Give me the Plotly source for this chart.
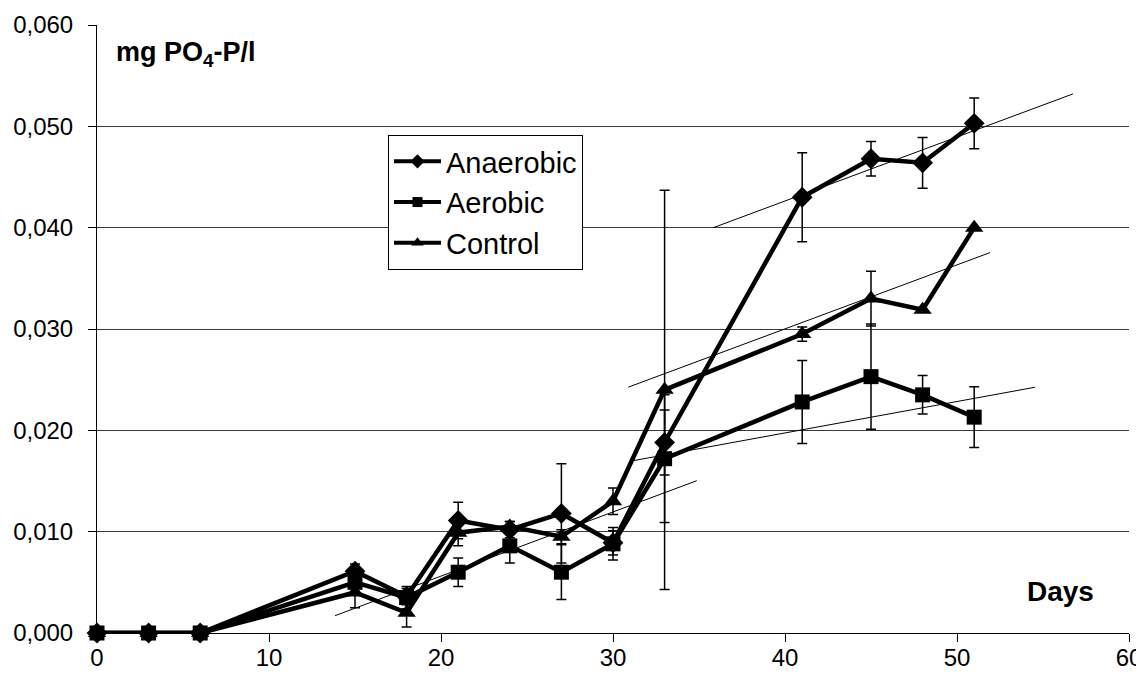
import plotly.graph_objects as go

# ---- data ----
days = [0, 3, 6, 15, 18, 21, 24, 27, 30, 33, 41, 45, 48, 51]

anaerobic = [0, 0, 0, 0.0061, 0.0036, 0.0111, 0.0102, 0.0118, 0.0089, 0.0188, 0.0430, 0.0468, 0.0464, 0.0503]
anaerobic_err = [None, None, None, 0.0007, 0.0008, 0.0018, 0.0008, 0.0049, 0.0012, 0.0032, 0.0044, 0.0017, 0.0025, 0.0025]

aerobic = [0, 0, 0, 0.0050, 0.0035, 0.0060, 0.0086, 0.0060, 0.0088, 0.0172, 0.0228, 0.0253, 0.0235, 0.0213]
aerobic_err = [None, None, None, 0.0010, 0.0011, 0.0014, 0.0017, 0.0027, 0.0016, 0.0063, 0.0041, 0.0052, 0.0019, 0.0030]

control = [0, 0, 0, 0.0040, 0.0020, 0.0099, 0.0105, 0.0095, 0.0130, 0.0240, 0.0295, 0.0330, 0.0319, 0.0400]
control_err = [None, None, None, 0.0015, 0.0014, 0.0013, 0.0005, 0.0007, 0.0013, 0.0197, 0.0007, 0.0027, None, None]

# thin trend lines (start/end in data units)
trend_early_x = [13.84, 34.87]
trend_early_y = [0.00171, 0.01503]
trend_aerobic_x = [31.09, 54.53]
trend_aerobic_y = [0.01698, 0.02425]
trend_control_x = [30.89, 51.92]
trend_control_y = [0.02426, 0.03754]
trend_anaerobic_x = [35.83, 56.74]
trend_anaerobic_y = [0.0400, 0.0532]

series = {
    "Anaerobic": (anaerobic, anaerobic_err, "diamond", 16, 11),
    "Aerobic": (aerobic, aerobic_err, "square", 15, 10),
    "Control": (control, control_err, "triangle-up", 16, 11),
}
draw_order = ["Anaerobic", "Control", "Aerobic"]
legend_order = ["Anaerobic", "Aerobic", "Control"]

FONT = "Liberation Sans, Arial, sans-serif"

fig = go.Figure()

for tx, ty in [(trend_early_x, trend_early_y), (trend_aerobic_x, trend_aerobic_y),
               (trend_control_x, trend_control_y), (trend_anaerobic_x, trend_anaerobic_y)]:
    fig.add_trace(go.Scatter(x=tx, y=ty, mode="lines", line=dict(color="black", width=1),
                             showlegend=False, hoverinfo="skip"))

for name in draw_order:
    vals, err, sym, size, _ = series[name]
    fig.add_trace(go.Scatter(
        x=days, y=vals, mode="lines+markers", name=name, showlegend=False,
        cliponaxis=False,
        line=dict(color="black", width=4.5),
        marker=dict(symbol=sym, size=size, color="black"),
        error_y=dict(type="data", array=err, visible=True, color="black", thickness=1.5, width=5),
    ))

for name in legend_order:
    vals, err, sym, size, lsize = series[name]
    fig.add_trace(go.Scatter(
        x=[None], y=[None], mode="lines+markers", name=name,
        line=dict(color="black", width=4),
        marker=dict(symbol=sym, size=lsize, color="black"),
    ))

# page body has an 8px margin, so the figure is sized/placed to compensate
fig.update_layout(
    width=1136, height=671,
    margin=dict(l=89, r=15, t=17, b=46),
    paper_bgcolor="white", plot_bgcolor="white",
    separators=",.",
    font=dict(family=FONT, size=24, color="black"),
    showlegend=True,
    legend=dict(
        x=(388 - 97) / 1032, y=(633 - 135) / 608, xanchor="left", yanchor="top",
        bgcolor="white", bordercolor="black", borderwidth=1,
        font=dict(family=FONT, size=29, color="black"),
        itemsizing="trace", tracegroupgap=0, itemwidth=47,
        entrywidth=150, entrywidthmode="pixels",
    ),
    xaxis=dict(
        range=[0, 60], dtick=10, tick0=0, showgrid=False, zeroline=False,
        showline=True, linecolor="black", linewidth=1, automargin=False,
        ticks="outside", ticklen=8, tickcolor="black", tickwidth=1,
        tickfont=dict(family=FONT, size=24, color="black"),
        ticklabelstandoff=-5,
    ),
    yaxis=dict(
        range=[0, 0.060], dtick=0.01, tick0=0, tickformat=".3f",
        showgrid=True, gridcolor="#3a3a3a", gridwidth=1, zeroline=False,
        showline=True, linecolor="black", linewidth=1, automargin=False,
        ticks="outside", ticklen=8, tickcolor="black", tickwidth=1,
        tickfont=dict(family=FONT, size=24, color="black"),
        ticklabelstandoff=10,
    ),
    annotations=[
        dict(text="<b>mg PO<sub>4</sub>-P/l</b>", xref="paper", yref="paper",
             x=(114 - 97) / 1032, y=(633 - 54) / 608, xanchor="left", yanchor="middle",
             showarrow=False, font=dict(family=FONT, size=27, color="black")),
        dict(text="<b>Days</b>", xref="paper", yref="paper",
             x=(1096 - 97) / 1032, y=(633 - 591) / 608, xanchor="right", yanchor="middle",
             showarrow=False, font=dict(family=FONT, size=28, color="black")),
    ],
)

fig.write_html("out.html")
